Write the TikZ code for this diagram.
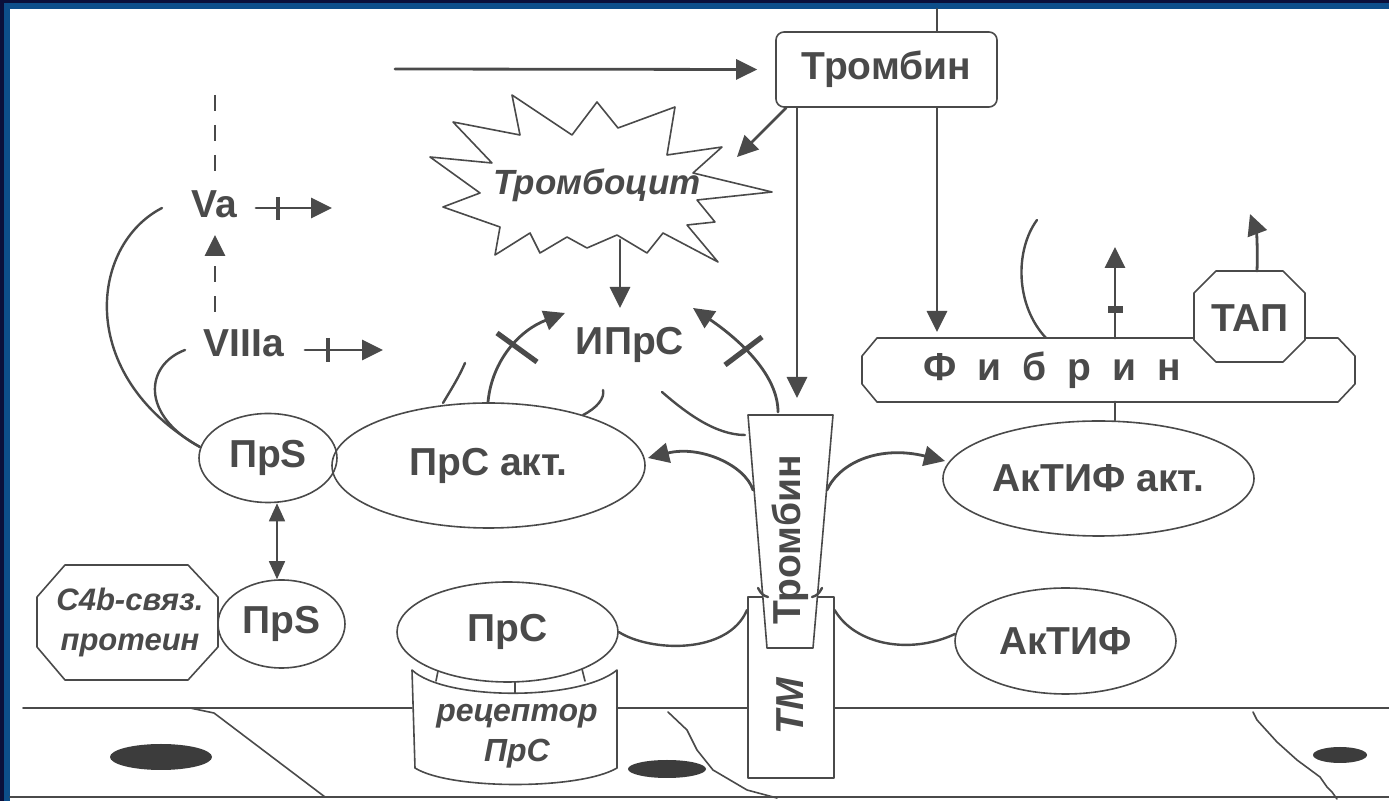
\documentclass[tikz,border=0pt]{standalone}
\usepackage{fontspec}
\setmainfont{Liberation Sans}
\newfontfamily\spacedfont[LetterSpace=26]{Liberation Sans}
\usetikzlibrary{arrows.meta,shapes.geometric,positioning}
\definecolor{ink}{HTML}{4A4A4A}
\definecolor{nucl}{HTML}{3C3C3C}
\definecolor{frameblue}{HTML}{0D4E8A}
\definecolor{framenavy}{HTML}{0A0F3A}
\tikzset{
  lbl/.style={text=ink, font=\fontsize{19.5}{22}\selectfont\bfseries, inner sep=0pt},
  itl/.style={text=ink, font=\fontsize{16}{20}\selectfont\bfseries\itshape, inner sep=0pt},
  outl/.style={draw=ink, line width=0.8pt},
  ell/.style={outl, ellipse, inner sep=0pt},
  wire/.style={draw=ink, line width=1.4pt},
  bind/.style={draw=ink, line width=1.2pt},
  arr/.style={wire, ->},
  dashw/.style={wire, dash pattern=on 8pt off 7pt, line cap=butt},
  block/.style={draw=ink, line width=2.6pt, line cap=butt},
  tick/.style={draw=ink, line width=1.8pt, line cap=butt},
}
\begin{document}
\begin{tikzpicture}[x=0.5pt,y=-0.5pt,line cap=round,line join=round,>={Triangle[length=10.5pt,width=10pt]}]
  \useasboundingbox (0,0) rectangle (1389,801);
  % frame
  \fill[framenavy] (0,0) rectangle (1389,801);
  \fill[frameblue] (4,3) rectangle (1389,801);
  \fill[white] (10,9) rectangle (1389,801);

  % membrane and cells
  \draw[outl] (23,708) -- (412,708) (617,708) -- (747,708) (833,708) -- (1389,708);
  \draw[outl] (10,797) -- (1389,797);
  \draw[outl] (190,708) -- (214,713) -- (325,797);
  \draw[outl] (668,712) -- (687,730) -- (697,750) -- (713,770) -- (747,790) -- (777,798);
  \draw[outl] (1253,712) -- (1257,720) -- (1277,742) -- (1297,760) -- (1320,777) -- (1327,787) -- (1332,792) -- (1337,799);
  \fill[nucl] (161,757) ellipse [x radius=25.5pt, y radius=6.5pt];
  \fill[nucl] (667,769) ellipse [x radius=19.5pt, y radius=4.5pt];
  \fill[nucl] (1340,755) ellipse [x radius=13.5pt, y radius=4pt];

  % thrombin (top)
  \node[outl, rounded corners=4pt, minimum width=110.5pt, minimum height=37.5pt, lbl] (thr) at (886.5,69.5) {Тромбин};
  \coordinate (topin) at (937,9);
  \coordinate (feed) at (395,69);
  \coordinate (pltin) at (737,157);
  \coordinate (trtip) at (797,398);
  \coordinate (fibtip) at (937,332);
  \draw[wire] (topin) -- (topin |- thr.north);
  \draw[arr] (feed) -- ([xshift=-9pt]thr.west);
  \draw[arr] ([xshift=5.5pt]thr.south west) -- (pltin);
  \draw[arr] (thr.south -| trtip) -- (trtip);
  \draw[arr] (thr.south -| fibtip) -- (fibtip);

  % platelet
  \draw[outl, fill=white] (453,122) -- (520,135) -- (512,95) -- (572,135) -- (597,102) -- (618,128)
    -- (675,107) -- (667,155) -- (722,147) -- (693,173) -- (772,192) -- (697,200) -- (715,222)
    -- (687,225) -- (718,262) -- (663,233) -- (647,253) -- (617,235) -- (587,248) -- (567,237)
    -- (540,253) -- (530,233) -- (495,255) -- (500,227) -- (443,207) -- (480,193) -- (430,157)
    -- (492,163) -- cycle;
  \node[itl, font=\fontsize{17.5}{20}\selectfont\bfseries\itshape] (plt) at (597,185) {Тромбоцит};
  \coordinate (pltout) at (620,240);
  \coordinate (iprsin) at (620,308);
  \draw[arr] (pltout) -- (iprsin);

  % protein C inhibitor
  \node[lbl] (iprs) at (630,345) {ИПрС};
  \draw[arr] (488,402) .. controls (492,360) and (520,330) .. (565,313);
  \draw[block] (497,333) -- (537,362);
  \draw[arr] (778,412) .. controls (778,375) and (740,340) .. (693,308);
  \draw[block] (725,365) -- (762,337);
  \draw[bind] (443,403) .. controls (452,388) and (459,377) .. (465,363);
  \draw[bind] (583,415) .. controls (597,408) and (605,398) .. (603,390);
  \draw[bind] (662,392) .. controls (685,412) and (715,435) .. (745,435);

  % factors Va, VIIIa
  \node[lbl] (va) at (214,204) {Va};
  \node[lbl] (viiia) at (244,343) {VIIIa};
  \draw[dashw] (215,95) -- (215,172);
  \draw[dashw, ->] (215,312) -- (215,235);
  \draw[arr] (256,208) -- (332,208);
  \draw[tick] (278,197) -- (278,220);
  \draw[arr] (305,350) -- (383,350);
  \draw[tick] (328,338) -- (328,362);
  \draw[bind] (162,208) .. controls (90,245) and (75,375) .. (200,447);
  \draw[bind] (185,350) .. controls (145,365) and (140,415) .. (200,447);

  % protein S, activated protein C
  \node[ell, lbl, minimum width=69pt, minimum height=44.5pt] (prsu) at (268,458) {ПрS};
  \node[ell, lbl, minimum width=156.5pt, minimum height=62.5pt] (prca) at (488.5,465.5) {ПрС акт.};
  \node[ell, lbl, minimum width=63.5pt, minimum height=44pt] (prsl) at (281.5,624) {ПрS};
  \draw[outl, <->, >={Triangle[length=9pt,width=8pt]}] (prsu.south -| 277,0) -- (prsl.north -| 277,0);
  \draw[outl, fill=white] (65,565) -- (188,565) -- (218,597) -- (218,647) -- (188,680) -- (65,680)
    -- (37,647) -- (37,597) -- cycle;
  \node[itl, align=center, font=\fontsize{15.5}{20}\selectfont\bfseries\itshape] (c4b) at (130,622) {C4b-связ.\\протеин};

  % receptor and protein C
  \draw[outl, fill=white] (412,670) .. controls (445,701) and (580,701) .. (617,670) -- (617,768)
    .. controls (580,790) and (450,790) .. (415,768) -- cycle;
  \node[ell, lbl, fill=white, minimum width=110.5pt, minimum height=50pt] (prc) at (507.5,632) {ПрС};
  \draw[outl] (438,671) -- (436,681) (515,682) -- (515,693) (582,669) -- (585,681);
  \node[itl, align=center] (rec) at (517,736) {рецептор\\ПрС};

  % thrombomodulin with bound thrombin
  \node[outl, fill=white, minimum width=43pt, minimum height=90.5pt, anchor=north west] (tm) at (747,596) {};
  \draw[outl, fill=white] (748,415) -- (833,415) -- (813,648) -- (767,648) -- cycle;
  \node[lbl, rotate=90] (thrv) at (790,540) {Тромбин};
  \node[itl, rotate=90, font=\fontsize{19.5}{22}\selectfont\bfseries\itshape] (tmlbl) at (790,706) {ТМ};
  \draw[arr] (753,490) .. controls (745,465) and (700,445) .. (648,458);
  \draw[arr] (827,490) .. controls (840,462) and (880,445) .. (945,461);
  \draw[bind] (prc.east) .. controls (650,652) and (728,655) .. ([yshift=-7pt]tm.north west);
  \draw[bind] ([yshift=-7pt]tm.north east) .. controls (855,645) and (910,655) .. (955,634);
  \draw[bind] (758,588) .. controls (761,594) and (764,596) .. (768,597);
  \draw[bind] (822,588) .. controls (819,594) and (816,596) .. (812,597);

  % TAFI
  \node[ell, lbl, minimum width=155.5pt, minimum height=57.5pt] (aktifa) at (1098.5,478.5) {АкТИФ акт.};
  \node[ell, lbl, minimum width=110.5pt, minimum height=53pt] (aktif) at (1065.5,641) {АкТИФ};

  % fibrin
  \draw[outl, fill=white] (877,338) -- (1338,338) -- (1355,356) -- (1355,384) -- (1338,402) -- (877,402)
    -- (862,384) -- (862,356) -- cycle;
  \node[lbl, font=\fontsize{19.5}{22}\spacedfont\bfseries] (fib) at (1052,370) {Ф и б р и н};
  \draw[wire] (1115,402) -- (aktifa.north -| 1115,0);
  \draw[arr] (1115,338) -- (1115,247);
  \fill[ink] (1108,306) rectangle (1123,313);
  \draw[bind] (1046,338) .. controls (1015,305) and (1015,250) .. (1037,220);
  \draw[outl, fill=white] (1216,271) -- (1283,271) -- (1305,293) -- (1305,340) -- (1283,362) -- (1216,362)
    -- (1194,340) -- (1194,293) -- cycle;
  \node[lbl] (tap) at (1250,318) {ТАП};
  \draw[arr] (1257,271) .. controls (1258,245) and (1256,230) .. (1250,214);
\end{tikzpicture}
\end{document}
